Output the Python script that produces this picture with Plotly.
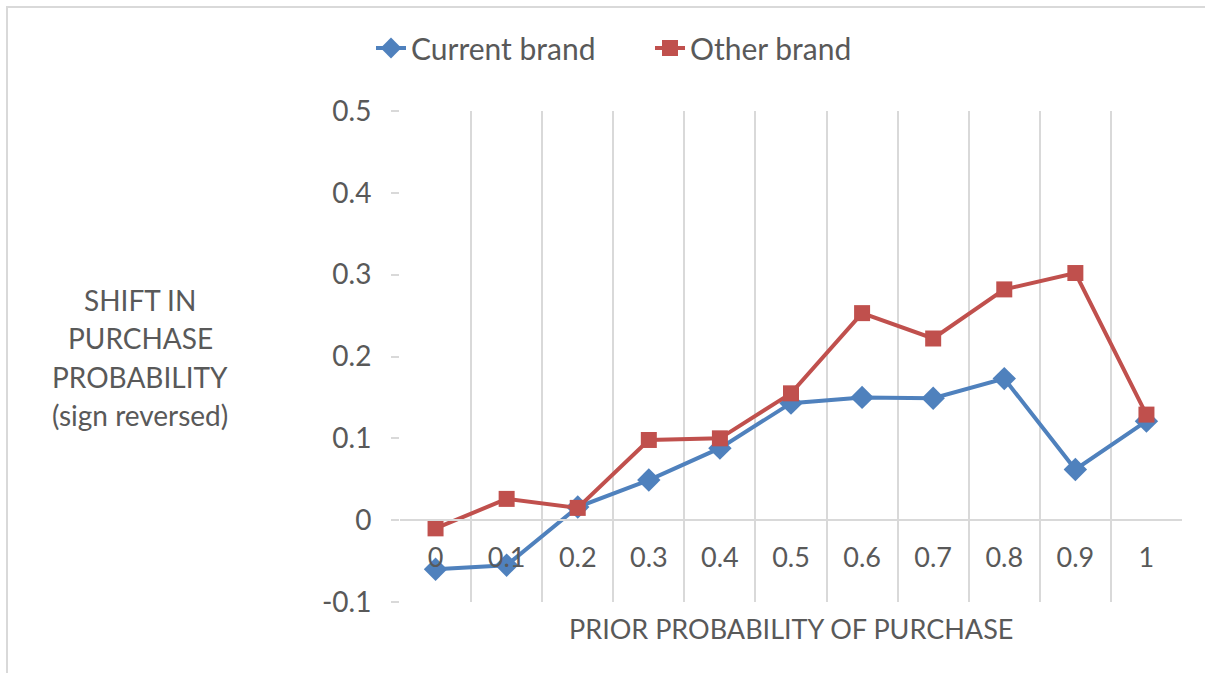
import plotly.graph_objects as go

categories = ["0", "0.1", "0.2", "0.3", "0.4", "0.5", "0.6", "0.7", "0.8", "0.9", "1"]
current_brand = [-0.060, -0.055, 0.016, 0.049, 0.088, 0.143, 0.150, 0.149, 0.173, 0.062, 0.121]
other_brand = [-0.010, 0.026, 0.015, 0.098, 0.100, 0.155, 0.253, 0.222, 0.282, 0.302, 0.129]
y_ticks = [-0.1, 0, 0.1, 0.2, 0.3, 0.4, 0.5]

TXT = "#595959"
GRID = "#D9D9D9"
FONT = "Lato"

fig = go.Figure()
fig.add_trace(go.Scatter(
    x=categories, y=current_brand, name="Current brand", mode="lines+markers",
    line=dict(color="#4F81BD", width=4),
    marker=dict(symbol="diamond", size=18, color="#4F81BD"),
))
fig.add_trace(go.Scatter(
    x=categories, y=other_brand, name="Other brand", mode="lines+markers",
    line=dict(color="#C0504D", width=4),
    marker=dict(symbol="square", size=16, color="#C0504D"),
))

W, H = 1205, 673
L, R, T, B = 400, 1182, 111, 602
pw, ph = R - L, B - T

fig.update_layout(
    width=W, height=H,
    margin=dict(l=L, r=W - R, t=T, b=H - B),
    paper_bgcolor="white", plot_bgcolor="white",
    font=dict(family=FONT, color=TXT, size=27),
    showlegend=True,
    legend=dict(orientation="h", x=(371 - L) / pw, xref="paper", xanchor="left",
                y=(B - 48) / ph, yanchor="middle",
                font=dict(size=30, color=TXT, family=FONT),
                entrywidth=234, entrywidthmode="pixels",
                traceorder="normal", bgcolor="rgba(0,0,0,0)"),
    xaxis=dict(
        type="category", tickson="boundaries",
        showgrid=True, gridcolor=GRID, gridwidth=2,
        showline=True, linecolor=GRID, linewidth=2,
        anchor="free", position=(0 - (-0.1)) / 0.6,
        ticks="", ticklabelstandoff=13,
        tickfont=dict(size=27, color=TXT, family=FONT),
        range=[-0.5, len(categories) - 0.5],
        title=None, zeroline=False,
    ),
    yaxis=dict(
        range=[-0.1, 0.5], tickvals=y_ticks,
        ticktext=[("%g" % v) for v in y_ticks],
        showgrid=False, zeroline=False, showline=False,
        ticks="outside", ticklen=8, tickcolor=GRID, tickwidth=2,
        ticklabelstandoff=14,
        tickfont=dict(size=28, color=TXT, family=FONT),
    ),
)

# Axis titles
fig.add_annotation(
    text="PRIOR PROBABILITY OF PURCHASE", xref="paper", yref="paper",
    x=(791 - L) / pw, y=(B - 628) / ph, xanchor="center", yanchor="middle",
    showarrow=False, font=dict(size=27, color=TXT, family=FONT),
)
y_title_lines = ["SHIFT IN", "PURCHASE", "PROBABILITY", "(sign reversed)"]
for i, line in enumerate(y_title_lines):
    fig.add_annotation(
        text=line, xref="paper", yref="paper",
        x=(140 - L) / pw, y=(B - (300 + 38.3 * i)) / ph,
        xanchor="center", yanchor="middle",
        showarrow=False, font=dict(size=28, color=TXT, family=FONT),
    )

# Chart frame (top and left edges visible)
fig.add_shape(type="rect", xref="paper", yref="paper",
              x0=(7 - L) / pw, x1=(W + 20 - L) / pw,
              y0=(B - (H + 20)) / ph, y1=(B - 7) / ph,
              line=dict(color=GRID, width=2), fillcolor="rgba(0,0,0,0)", layer="below")

fig.write_html("out.html", config={"displayModeBar": False},
               post_script="document.body.style.margin='0';document.body.style.overflow='hidden';")
